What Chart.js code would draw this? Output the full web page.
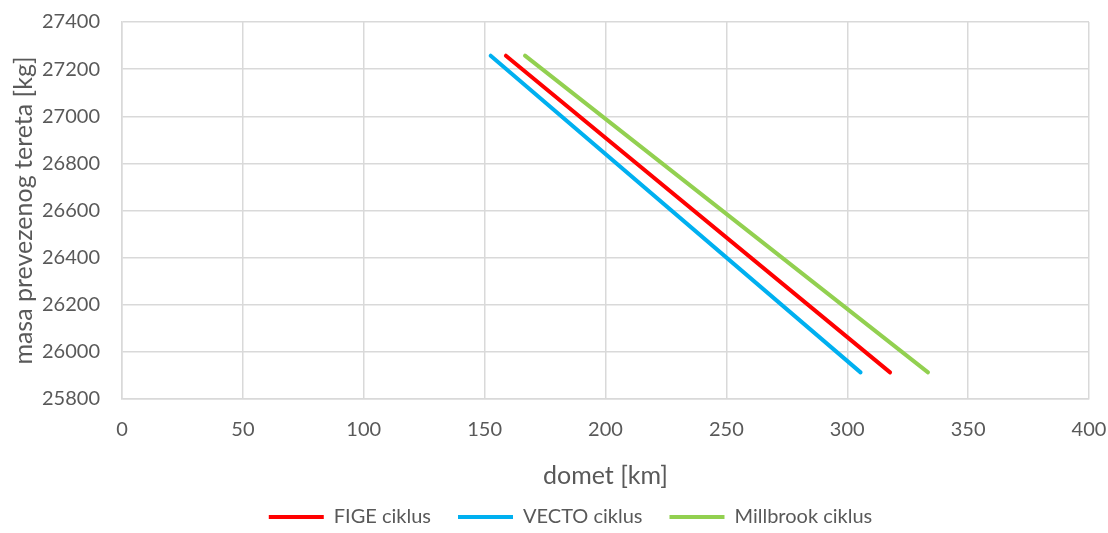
<!DOCTYPE html>
<html>
<head>
<meta charset="utf-8">
<script src="https://cdn.jsdelivr.net/npm/chart.js@4/dist/chart.umd.min.js"></script>
<style>
  html, body { margin: 0; padding: 0; background: #fff; }
  #wrap { width: 1108px; height: 533px; }
</style>
</head>
<body>
<div id="wrap"><canvas id="rangeChart"></canvas></div>
<script>
// DATA
const cycleNames = ['FIGE ciklus', 'VECTO ciklus', 'Millbrook ciklus'];
const cargoMassKg = [27257, 25913];
const figeRangeKm = [158.8, 317.7];
const vectoRangeKm = [152.5, 305.5];
const millbrookRangeKm = [166.7, 333.4];
const xTicks = [0, 50, 100, 150, 200, 250, 300, 350, 400];
const yTicks = [25800, 26000, 26200, 26400, 26600, 26800, 27000, 27200, 27400];

const cycleColors = ['#FF0000', '#00B0F0', '#92D050'];
const textColor = '#595959';
const gridColor = '#D9D9D9';
const fontFamily = 'Lato, "Open Sans", sans-serif';

function toPoints(xs, ys) {
    return xs.map((x, i) => ({ x, y: ys[i] }));
}

const ranges = [figeRangeKm, vectoRangeKm, millbrookRangeKm];

const datasets = cycleNames.map((name, i) => ({
    label: name,
    data: toPoints(ranges[i], cargoMassKg),
    borderColor: cycleColors[i],
    backgroundColor: cycleColors[i],
    borderWidth: 4,
    borderCapStyle: 'round',
    pointRadius: 0,
    pointHoverRadius: 0,
    showLine: true,
    fill: false,
    tension: 0
}));

// legend in the original sits a bit right of centre
const legendShift = {
    id: 'legendShift',
    afterLayout(chart) {
        chart.legend.left += 26;
        chart.legend.right += 26;
    }
};

const ctx = document.getElementById('rangeChart').getContext('2d');

new Chart(ctx, {
    type: 'scatter',
    data: { datasets },
    plugins: [legendShift],
    options: {
        responsive: true,
        maintainAspectRatio: false,
        animation: false,
        layout: {
            padding: { top: 22, right: 19, bottom: -4, left: 0 }
        },
        plugins: {
            legend: {
                position: 'bottom',
                labels: {
                    boxWidth: 55,
                    boxHeight: 4,
                    padding: 27,
                    color: textColor,
                    font: { family: fontFamily, size: 20 },
                    // flat bars, no outline stroke round the box
                    generateLabels: chart =>
                        Chart.defaults.plugins.legend.labels.generateLabels(chart)
                            .map(item => ({ ...item, lineWidth: 0 }))
                }
            },
            tooltip: { enabled: false }
        },
        scales: {
            x: {
                type: 'linear',
                min: 0,
                max: 400,
                afterBuildTicks: scale => {
                    scale.ticks = xTicks.map(v => ({ value: v }));
                },
                afterFit: scale => {
                    scale.height = 81;
                    scale.paddingLeft = 0;
                    scale.paddingRight = 0;
                },
                ticks: {
                    color: textColor,
                    padding: 19,
                    callback: v => String(v),
                    font: { family: fontFamily, size: 20 }
                },
                grid: {
                    color: gridColor,
                    lineWidth: 1.5,
                    drawTicks: false
                },
                border: { color: gridColor, width: 1.5 },
                title: {
                    display: true,
                    text: 'domet [km]',
                    color: textColor,
                    padding: { top: 19, bottom: -11 },
                    font: { family: fontFamily, size: 25 }
                }
            },
            y: {
                type: 'linear',
                min: 25800,
                max: 27400,
                afterBuildTicks: scale => {
                    scale.ticks = yTicks.map(v => ({ value: v }));
                },
                afterFit: scale => {
                    scale.width = 122;
                    scale.paddingTop = 0;
                    scale.paddingBottom = 0;
                },
                ticks: {
                    color: textColor,
                    padding: 22,
                    callback: v => String(v),
                    font: { family: fontFamily, size: 20 }
                },
                grid: {
                    color: gridColor,
                    lineWidth: 1.5,
                    drawTicks: false
                },
                border: { color: gridColor, width: 1.5 },
                title: {
                    display: true,
                    text: 'masa prevezenog tereta [kg]',
                    color: textColor,
                    padding: { top: 9, bottom: 0 },
                    font: { family: fontFamily, size: 25 }
                }
            }
        }
    }
});
</script>
</body>
</html>
